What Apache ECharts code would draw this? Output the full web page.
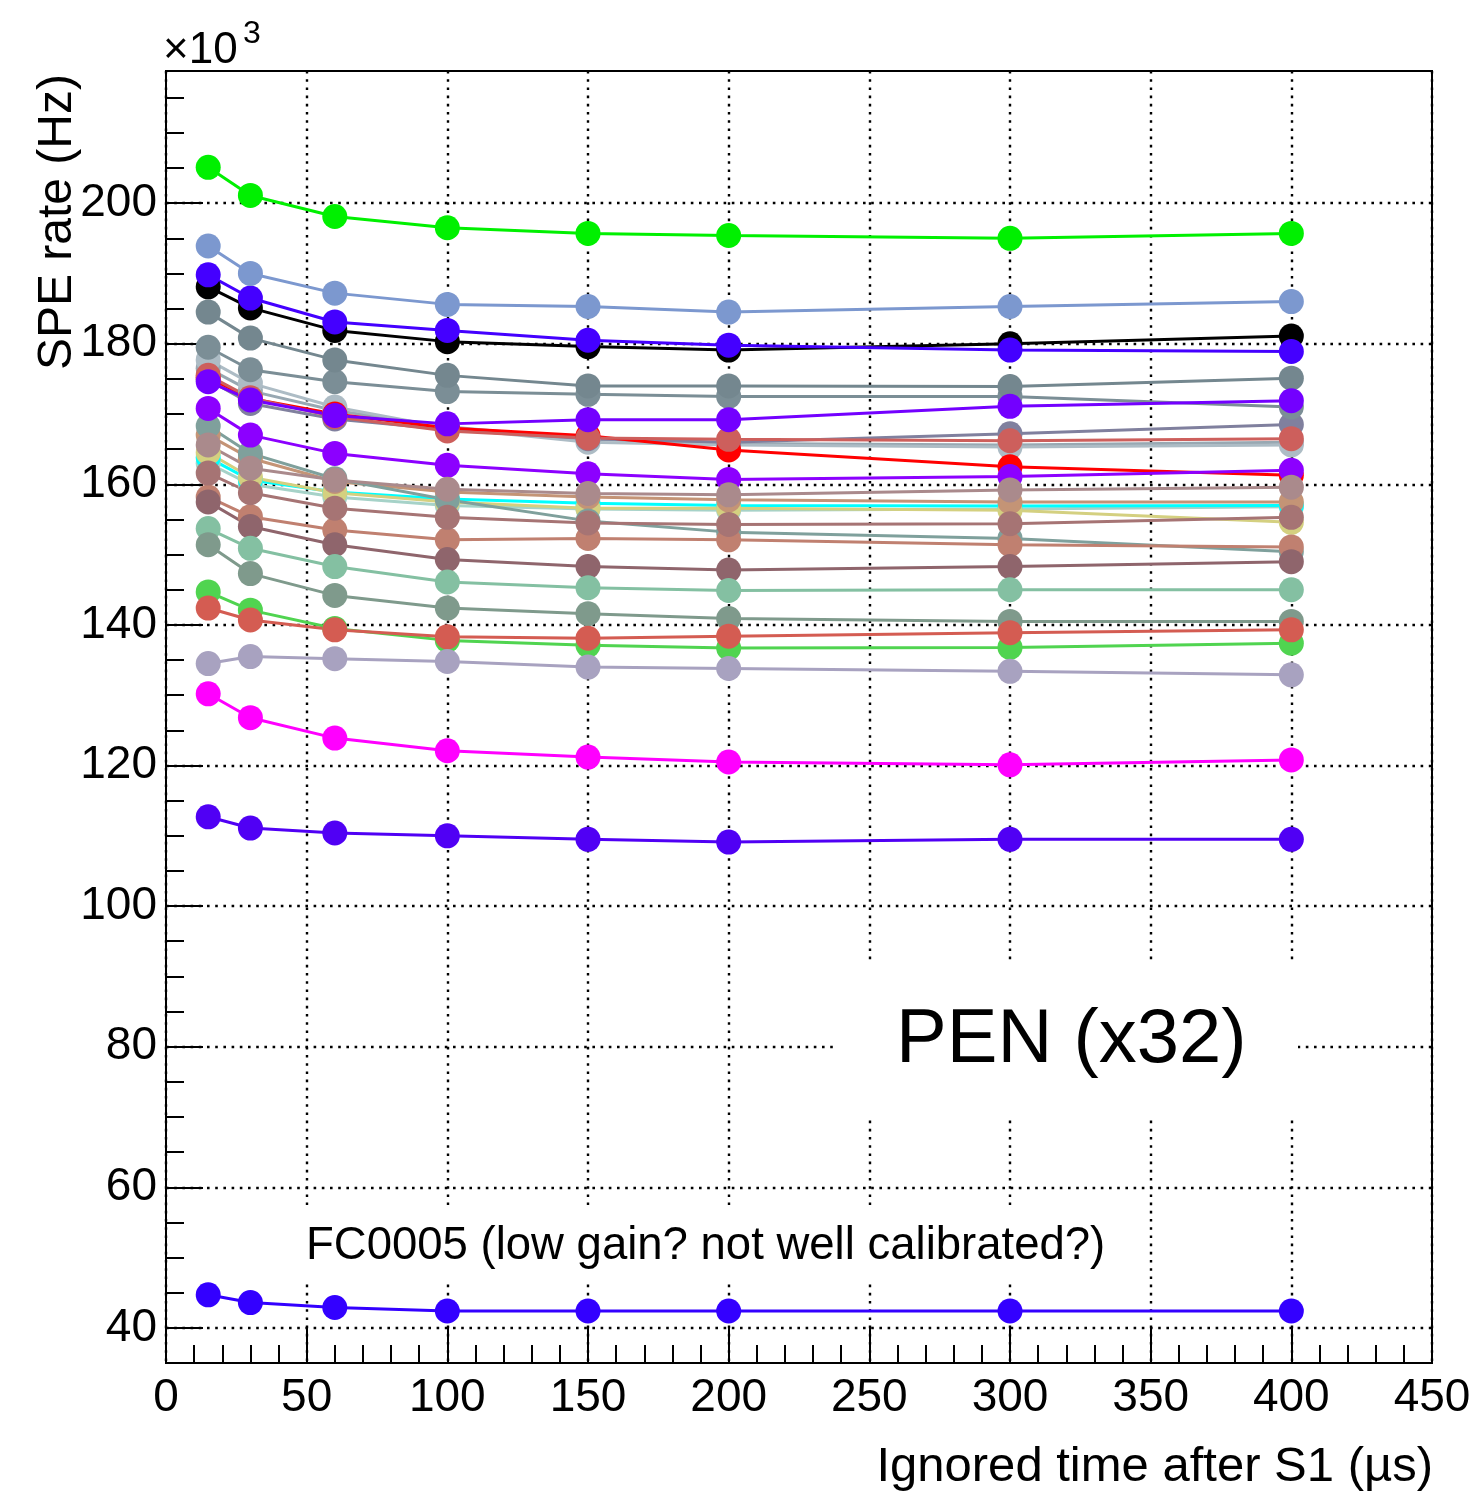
<!DOCTYPE html>
<html>
<head>
<meta charset="utf-8">
<title>SPE rate vs ignored time after S1</title>
<script src="https://cdn.jsdelivr.net/npm/echarts@6/dist/echarts.min.js"></script>
<style>
  html, body { margin: 0; padding: 0; background: #fff; }
  #chart { width: 1481px; height: 1493px; }
</style>
</head>
<body>
<div id="chart"></div>
<script>
// Ignored time after S1 (µs) at which the SPE rate was evaluated
const ignoredTime = [15, 30, 60, 100, 150, 200, 300, 400];

// SPE rate per channel, in units of 10^3 Hz
const chLightTeal  = [163.0, 160.0, 158.2, 157.0, 156.5, 156.3, 156.5, 156.8];
const chCyan       = [163.8, 160.6, 158.9, 157.9, 157.3, 157.0, 156.9, 157.0];
const chYellow     = [164.5, 161.0, 158.8, 157.5, 156.6, 156.6, 156.3, 154.6];
const chTan        = [167.0, 163.7, 160.4, 158.9, 158.2, 157.8, 157.5, 157.5];
const chTealGrey   = [168.3, 164.4, 160.8, 157.8, 154.8, 153.2, 152.3, 150.4];
const chLightSlate = [176.5, 173.3, 170.5, 168.2, 166.4, 165.8, 165.6, 166.0];
const chPaleSlate  = [177.7, 174.4, 171.0, 168.0, 166.0, 165.6, 165.3, 165.6];
const chGreyPurple = [174.9, 171.5, 169.3, 167.8, 166.5, 166.0, 167.2, 168.5];
const chRed        = [175.2, 172.2, 170.0, 168.0, 166.9, 164.9, 162.5, 161.3];
const chIndianRed  = [175.5, 172.3, 169.6, 167.6, 166.6, 166.4, 166.2, 166.5];
const chSlateB     = [179.5, 176.3, 174.6, 173.2, 172.8, 172.5, 172.5, 171.0];
const chSlateA     = [184.5, 180.8, 177.7, 175.5, 174.0, 174.0, 173.9, 175.1];
const chViolet     = [174.6, 172.0, 169.8, 168.6, 169.2, 169.2, 171.1, 171.9];
const chViolet2    = [170.8, 167.0, 164.4, 162.7, 161.5, 160.7, 161.1, 162.0];
const chPinkish    = [165.6, 162.3, 160.6, 159.3, 158.7, 158.5, 159.2, 159.6];
const chRosy       = [158.2, 155.4, 153.5, 152.1, 152.3, 152.1, 151.4, 151.1];
const chMauve      = [161.6, 158.8, 156.6, 155.3, 154.5, 154.3, 154.4, 155.3];
const chDarkMauve  = [157.5, 154.0, 151.4, 149.3, 148.3, 147.8, 148.3, 149.0];
const chMint       = [153.7, 150.9, 148.3, 146.1, 145.3, 144.9, 145.0, 145.0];
const chGreyGreen  = [151.4, 147.3, 144.2, 142.4, 141.6, 140.9, 140.5, 140.5];
const chGreen2     = [144.7, 142.1, 139.5, 137.8, 137.1, 136.7, 136.8, 137.4];
const chIndianRed2 = [142.4, 140.7, 139.3, 138.3, 138.1, 138.4, 138.9, 139.3];
const chLavender   = [134.5, 135.5, 135.2, 134.8, 134.0, 133.8, 133.4, 132.9];
const chBlack      = [188.1, 185.1, 181.9, 180.3, 179.6, 179.1, 180.0, 181.1];
const chBlueViolet = [189.8, 186.5, 183.1, 181.9, 180.5, 179.8, 179.1, 178.9];
const chLightBlue  = [193.9, 190.0, 187.2, 185.6, 185.3, 184.5, 185.3, 186.0];
const chGreen      = [205.1, 201.1, 198.1, 196.5, 195.7, 195.4, 195.0, 195.7];
const chMagenta    = [130.2, 126.8, 123.9, 122.1, 121.2, 120.5, 120.1, 120.8];
const chIndigo     = [112.7, 111.1, 110.4, 110.0, 109.5, 109.1, 109.5, 109.5];
const chFC0005     = [44.7, 43.6, 42.9, 42.4, 42.4, 42.4, 42.4, 42.4];

// Tick values on the rate axis
const rateMajorTicks = [40, 60, 80, 100, 120, 140, 160, 180, 200];
const rateMinorTicks = [35, 40, 45, 50, 55, 60, 65, 70, 75, 80, 85, 90, 95, 100, 105, 110,
  115, 120, 125, 130, 135, 140, 145, 150, 155, 160, 165, 170, 175, 180, 185, 190, 195,
  200, 205, 210, 215];

// Channels in drawing order (later ones on top) with their colours
const channels = [
  ['chLightTeal', chLightTeal, '#a6d2c8'],
  ['chCyan', chCyan, '#00ffff'],
  ['chYellow', chYellow, '#d4d080'],
  ['chTan', chTan, '#c49476'],
  ['chTealGrey', chTealGrey, '#7fa09c'],
  ['chLightSlate', chLightSlate, '#98a8b2'],
  ['chPaleSlate', chPaleSlate, '#adbcc5'],
  ['chGreyPurple', chGreyPurple, '#80809e'],
  ['chRed', chRed, '#ff0000'],
  ['chIndianRed', chIndianRed, '#cd5f5c'],
  ['chSlateB', chSlateB, '#7b8e96'],
  ['chSlateA', chSlateA, '#74878f'],
  ['chViolet', chViolet, '#7300ff'],
  ['chViolet2', chViolet2, '#8c00ff'],
  ['chPinkish', chPinkish, '#aa8a8c'],
  ['chRosy', chRosy, '#c08070'],
  ['chMauve', chMauve, '#a67474'],
  ['chDarkMauve', chDarkMauve, '#8f656c'],
  ['chMint', chMint, '#84c0a2'],
  ['chGreyGreen', chGreyGreen, '#7f9a8c'],
  ['chGreen2', chGreen2, '#50d450'],
  ['chIndianRed2', chIndianRed2, '#d45c52'],
  ['chLavender', chLavender, '#a8a2c0'],
  ['chBlack', chBlack, '#000000'],
  ['chBlueViolet', chBlueViolet, '#4400ff'],
  ['chLightBlue', chLightBlue, '#7c98cf'],
  ['chGreen', chGreen, '#00f000'],
  ['chMagenta', chMagenta, '#ff00ff'],
  ['chIndigo', chIndigo, '#5000f4'],
  ['FC0005', chFC0005, '#3300ff']
];

const FONT = '"Liberation Sans", Arial, Helvetica, sans-serif';
const gridDots = { color: '#000', width: 2.4, type: [2.6, 5.6], cap: 'butt' };

const series = channels.map(([name, values, color]) => ({
  name: name,
  type: 'line',
  data: ignoredTime.map((t, i) => [t, values[i]]),
  symbol: 'circle',
  symbolSize: 25,
  showSymbol: true,
  lineStyle: { color: color, width: 3 },
  itemStyle: { color: color, borderWidth: 0 },
  emphasis: { disabled: true },
  silent: true
}));

const chart = echarts.init(document.getElementById('chart'), null, { renderer: 'canvas' });

chart.setOption({
  animation: false,
  backgroundColor: '#ffffff',
  grid: {
    left: 166, top: 71, width: 1266, height: 1292,
    show: true, borderColor: '#000', borderWidth: 2, backgroundColor: 'transparent'
  },
  xAxis: {
    type: 'value',
    min: 0, max: 450, interval: 50,
    axisLine: { show: true, lineStyle: { color: '#000', width: 2 } },
    axisTick: { show: true, inside: true, length: 37, lineStyle: { color: '#000', width: 2 } },
    minorTick: { show: true, splitNumber: 5, length: 18, lineStyle: { color: '#000', width: 2 } },
    axisLabel: { color: '#000', fontSize: 46, fontFamily: FONT, margin: 12 },
    splitLine: { show: true, lineStyle: gridDots }
  },
  yAxis: [
    {
      type: 'value',
      min: 35, max: 218.8,
      axisLine: { show: true, lineStyle: { color: '#000', width: 2 } },
      axisTick: { show: true, inside: true, length: 37, customValues: rateMajorTicks,
        lineStyle: { color: '#000', width: 2 } },
      axisLabel: { color: '#000', fontSize: 46, fontFamily: FONT, margin: 9,
        customValues: rateMajorTicks },
      splitLine: { show: true, lineStyle: gridDots }
    },
    {
      type: 'value',
      min: 35, max: 218.8,
      position: 'left',
      axisLine: { show: false },
      axisTick: { show: true, inside: true, length: 18, customValues: rateMinorTicks,
        lineStyle: { color: '#000', width: 2 } },
      axisLabel: { show: false },
      splitLine: { show: false }
    }
  ],
  series: series,
  graphic: [
    // label panels
    { type: 'rect', z: 100, shape: { x: 838, y: 960, width: 460, height: 158 },
      style: { fill: '#fff' } },
    { type: 'text', z: 101, x: 896, y: 1041,
      style: { text: 'PEN (x32)', fontSize: 76, fontFamily: FONT, fill: '#000',
        textAlign: 'left', textVerticalAlign: 'middle' } },
    { type: 'rect', z: 100, shape: { x: 290, y: 1205, width: 830, height: 78 },
      style: { fill: '#fff' } },
    { type: 'text', z: 101, x: 306, y: 1246,
      style: { text: 'FC0005 (low gain? not well calibrated?)', fontSize: 45.5,
        fontFamily: FONT, fill: '#000', textAlign: 'left', textVerticalAlign: 'middle' } },
    // axis titles
    { type: 'text', z: 101, x: 58, y: 74, rotation: Math.PI / 2,
      style: { text: 'SPE rate (Hz)', fontSize: 48, fontFamily: FONT, fill: '#000',
        textAlign: 'right', textVerticalAlign: 'middle' } },
    { type: 'text', z: 101, x: 1433, y: 1467,
      style: { text: 'Ignored time after S1 (\u00b5s)', fontSize: 49, fontFamily: FONT,
        fill: '#000', textAlign: 'right', textVerticalAlign: 'middle' } },
    // axis multiplier
    { type: 'text', z: 101, x: 163, y: 51,
      style: { text: '\u00d710', fontSize: 44, fontFamily: FONT, fill: '#000',
        textAlign: 'left', textVerticalAlign: 'middle' } },
    { type: 'text', z: 101, x: 243, y: 34,
      style: { text: '3', fontSize: 32, fontFamily: FONT, fill: '#000',
        textAlign: 'left', textVerticalAlign: 'middle' } }
  ]
});
</script>
</body>
</html>
